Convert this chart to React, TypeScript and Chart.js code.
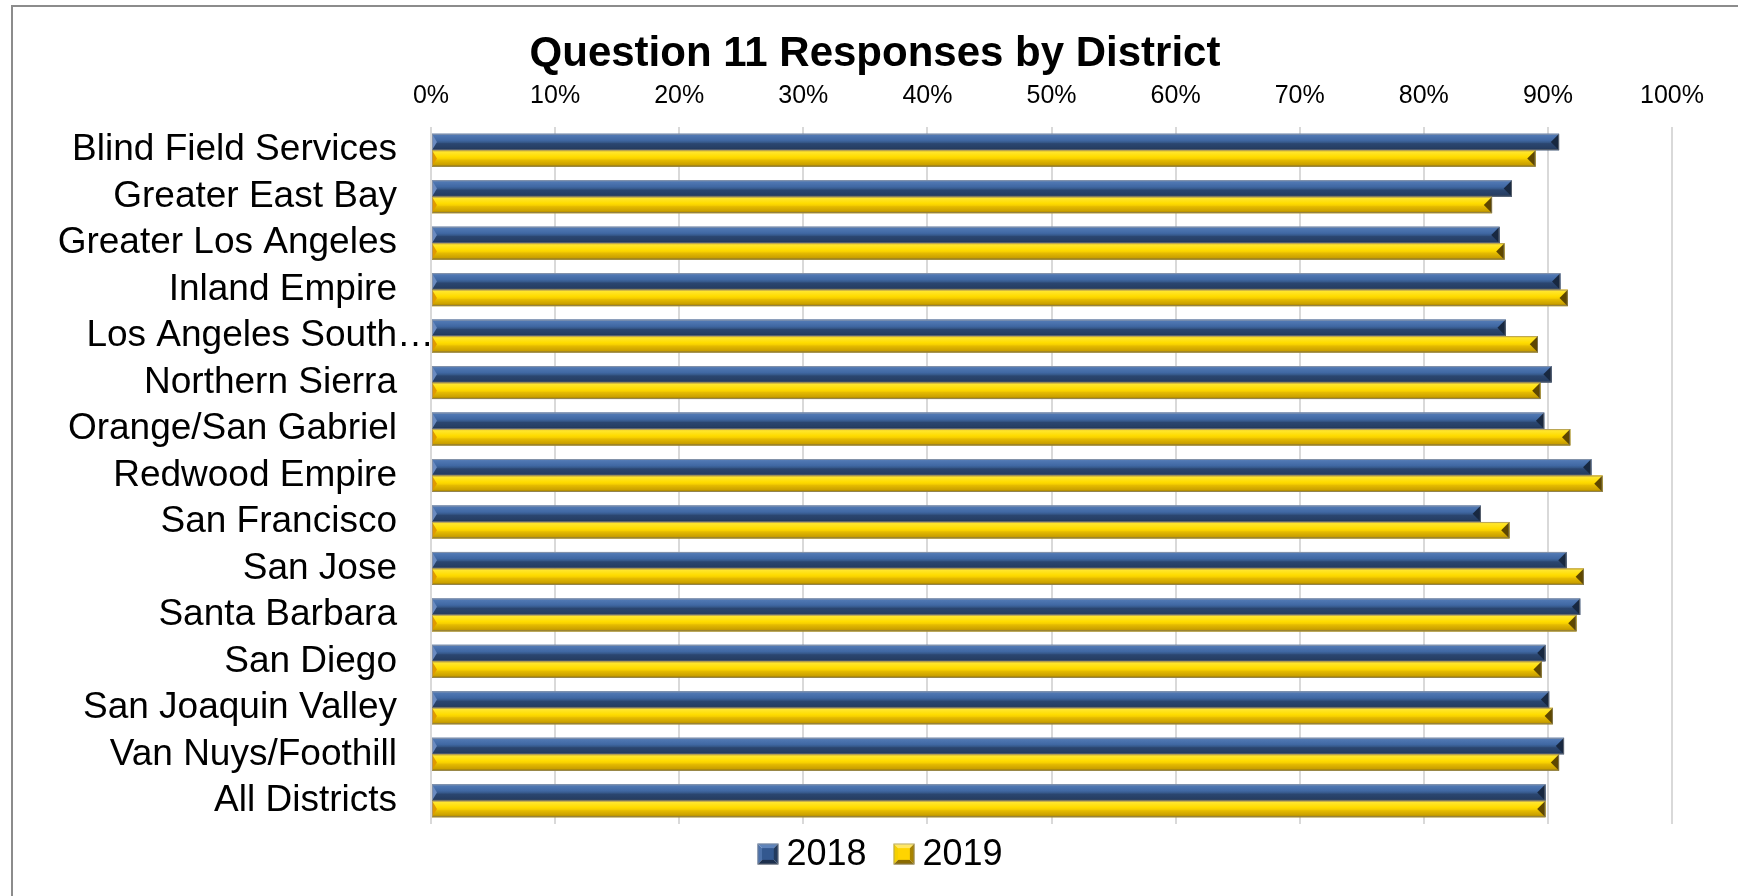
import React, { useEffect, useRef } from 'react';
import { Chart, registerables } from 'chart.js';

Chart.register(...registerables);

const chartTitle = 'Question 11 Responses by District';

const categories = [
  'Blind Field Services',
  'Greater East Bay',
  'Greater Los Angeles',
  'Inland Empire',
  'Los Angeles South…',
  'Northern Sierra',
  'Orange/San Gabriel',
  'Redwood Empire',
  'San Francisco',
  'San Jose',
  'Santa Barbara',
  'San Diego',
  'San Joaquin Valley',
  'Van Nuys/Foothill',
  'All Districts',
];

const seriesNames = ['2018', '2019'];

const values2018 = [90.9, 87.1, 86.1, 91.0, 86.6, 90.3, 89.7, 93.5, 84.6, 91.5, 92.6, 89.8, 90.1, 91.3, 89.8];
const values2019 = [89.0, 85.5, 86.5, 91.6, 89.2, 89.4, 91.8, 94.4, 86.9, 92.9, 92.3, 89.5, 90.4, 90.9, 89.8];

const axisMin = 0;
const axisMax = 100;
const axisStep = 10;

const FONT = "'Liberation Sans', Arial, Helvetica, sans-serif";

type Palette = {
  base: string;
  stops: [number, string][];
  end: string;
  endHi: string;
  start: string;
  boxTop: string;
  boxLeft: string;
  boxRight: string;
  boxBottom: string;
  boxCenter: string;
};

const palettes: Palette[] = [
  {
    base: '#345b94',
    stops: [
      [0, '#7a97c6'],
      [0.1, '#5078b3'],
      [0.4, '#4068a3'],
      [0.52, '#36598b'],
      [0.6, '#2b4670'],
      [0.88, '#263e63'],
      [1, '#1b2c47'],
    ],
    end: '#182840',
    endHi: '#30507f',
    start: '#6b8bc0',
    boxTop: '#5f84bb',
    boxLeft: '#4d72aa',
    boxRight: '#223a5e',
    boxBottom: '#1c2f4d',
    boxCenter: '#33588f',
  },
  {
    base: '#f2c800',
    stops: [
      [0, '#e0ad00'],
      [0.1, '#ffe62e'],
      [0.4, '#ffdc00'],
      [0.52, '#f6cf00'],
      [0.6, '#e5bb00'],
      [0.88, '#c99f00'],
      [1, '#7a5e00'],
    ],
    end: '#5e4700',
    endHi: '#b38a00',
    start: '#e09a00',
    boxTop: '#ffe766',
    boxLeft: '#f5d000',
    boxRight: '#a88300',
    boxBottom: '#8a6a00',
    boxCenter: '#ffd400',
  },
];

const CHART_LEFT = 431;
const CHART_RIGHT = 1672;
const CHART_TOP = 127;
const CHART_BOTTOM = 824;
const CANVAS_W = 1738;
const CANVAS_H = 896;
const FRAME_X = 12;
const FRAME_Y = 6;

const TITLE_SIZE = 42;
const TITLE_PAD_TOP = 29;
const TITLE_PAD_BOTTOM = 4;
const TICK_SIZE = 25;
const LABEL_SIZE = 37;
const LEGEND_SIZE = 36;

function drawBevelBar(ctx: CanvasRenderingContext2D, L: number, R: number, T: number, B: number, pal: Palette) {
  const h = B - T;
  const w = R - L;
  if (w <= 0 || h <= 0) return;
  const g = ctx.createLinearGradient(0, T, 0, B);
  pal.stops.forEach(([o, c]) => g.addColorStop(o, c));
  ctx.save();
  ctx.fillStyle = g;
  ctx.fillRect(L, T, w, h);
  const b = Math.min(h * 0.5, w / 2);
  const mid = T + h / 2;
  ctx.beginPath();
  ctx.moveTo(R, T);
  ctx.lineTo(R, B);
  ctx.lineTo(R - b, mid);
  ctx.closePath();
  ctx.fillStyle = pal.end;
  ctx.fill();
  ctx.beginPath();
  ctx.moveTo(R, T);
  ctx.lineTo(R - b, mid);
  ctx.lineTo(R - b * 0.2, T + h * 0.1);
  ctx.closePath();
  ctx.fillStyle = pal.endHi;
  ctx.fill();
  const bl = Math.min(h * 0.3, w / 2);
  ctx.beginPath();
  ctx.moveTo(L, T);
  ctx.lineTo(L, B);
  ctx.lineTo(L + bl, mid);
  ctx.closePath();
  ctx.fillStyle = pal.start;
  ctx.fill();
  ctx.strokeStyle = 'rgba(150,150,150,0.55)';
  ctx.lineWidth = 1;
  ctx.strokeRect(L + 0.5, T + 0.5, w - 1, h - 1);
  ctx.restore();
}

function drawLegendBox(ctx: CanvasRenderingContext2D, x: number, y: number, s: number, pal: Palette) {
  const cx = x + s / 2;
  const cy = y + s / 2;
  const tri = (pts: number[][], color: string) => {
    ctx.beginPath();
    ctx.moveTo(pts[0][0], pts[0][1]);
    for (let i = 1; i < pts.length; i++) ctx.lineTo(pts[i][0], pts[i][1]);
    ctx.closePath();
    ctx.fillStyle = color;
    ctx.fill();
  };
  tri([[x, y], [x + s, y], [cx, cy]], pal.boxTop);
  tri([[x, y], [x, y + s], [cx, cy]], pal.boxLeft);
  tri([[x + s, y], [x + s, y + s], [cx, cy]], pal.boxRight);
  tri([[x, y + s], [x + s, y + s], [cx, cy]], pal.boxBottom);
  const inset = s * 0.22;
  ctx.fillStyle = pal.boxCenter;
  ctx.fillRect(x + inset, y + inset, s - 2 * inset, s - 2 * inset);
  ctx.strokeStyle = 'rgba(140,140,140,0.6)';
  ctx.lineWidth = 1;
  ctx.strokeRect(x + 0.5, y + 0.5, s - 1, s - 1);
}

export default function App() {
  const canvasRef = useRef<HTMLCanvasElement>(null);

  useEffect(() => {
    const canvas = canvasRef.current;
    if (!canvas) return;

    const customPlugin = {
      id: 'customLook',
      beforeDraw(chart: any) {
        const ctx: CanvasRenderingContext2D = chart.ctx;
        ctx.save();
        ctx.fillStyle = '#ffffff';
        ctx.fillRect(0, 0, chart.width, chart.height);
        ctx.strokeStyle = '#8c8c8c';
        ctx.lineWidth = 2;
        ctx.beginPath();
        ctx.moveTo(FRAME_X, CANVAS_H);
        ctx.lineTo(FRAME_X, FRAME_Y);
        ctx.lineTo(CANVAS_W, FRAME_Y);
        ctx.stroke();
        ctx.restore();
      },
      afterDatasetsDraw(chart: any) {
        const ctx: CanvasRenderingContext2D = chart.ctx;
        chart.data.datasets.forEach((_ds: any, di: number) => {
          const meta = chart.getDatasetMeta(di);
          meta.data.forEach((el: any) => {
            const p = el.getProps(['x', 'y', 'base', 'height'], true);
            const L = Math.min(p.base, p.x);
            const R = Math.max(p.base, p.x);
            const T = p.y - p.height / 2;
            const B = p.y + p.height / 2;
            drawBevelBar(ctx, L, R, T, B, palettes[di]);
          });
        });
      },
      afterDraw(chart: any) {
        const ctx: CanvasRenderingContext2D = chart.ctx;
        const yScale = chart.scales.y;
        const pad = yScale.options.ticks.padding;
        ctx.save();
        ctx.font = `${LABEL_SIZE}px ${FONT}`;
        ctx.fillStyle = '#000';
        ctx.textBaseline = 'middle';
        ctx.textAlign = 'left';
        categories.forEach((c, i) => {
          if (c.endsWith('…')) {
            ctx.fillText('…', yScale.right - pad, yScale.getPixelForTick(i));
          }
        });
        ctx.restore();

        ctx.save();
        ctx.font = `${LEGEND_SIZE}px ${FONT}`;
        ctx.textBaseline = 'middle';
        ctx.textAlign = 'left';
        const box = 21;
        const gap = 8;
        const spacing = 27;
        const widths = seriesNames.map((n) => box + gap + ctx.measureText(n).width);
        const total = widths.reduce((a, b) => a + b, 0) + spacing * (seriesNames.length - 1);
        const centerX = (FRAME_X + CANVAS_W) / 2 + 5;
        const cy = 854;
        let x = centerX - total / 2;
        seriesNames.forEach((n, i) => {
          drawLegendBox(ctx, x, cy - box / 2, box, palettes[i]);
          ctx.fillStyle = '#000';
          ctx.fillText(n, x + box + gap, cy + 1);
          x += widths[i] + spacing;
        });
        ctx.restore();
      },
    };

    const chart = new Chart(canvas, {
      type: 'bar',
      data: {
        labels: categories,
        datasets: [
          {
            label: seriesNames[0],
            data: values2018,
            backgroundColor: palettes[0].base,
            borderWidth: 0,
            categoryPercentage: 0.71,
            barPercentage: 1.0,
          },
          {
            label: seriesNames[1],
            data: values2019,
            backgroundColor: palettes[1].base,
            borderWidth: 0,
            categoryPercentage: 0.71,
            barPercentage: 1.0,
          },
        ],
      },
      options: {
        indexAxis: 'y',
        responsive: false,
        maintainAspectRatio: false,
        animation: false,
        events: [],
        devicePixelRatio: 1,
        layout: {
          padding: { left: FRAME_X, right: 0, top: 0, bottom: CANVAS_H - CHART_BOTTOM },
        },
        plugins: {
          legend: { display: false },
          tooltip: { enabled: false },
          title: {
            display: true,
            text: chartTitle,
            color: '#000',
            font: { family: FONT, size: TITLE_SIZE, weight: 'bold', lineHeight: 1.2 },
            padding: { top: TITLE_PAD_TOP, bottom: TITLE_PAD_BOTTOM },
          },
        },
        scales: {
          x: {
            type: 'linear',
            position: 'top',
            min: axisMin,
            max: axisMax,
            ticks: {
              stepSize: axisStep,
              color: '#000',
              font: { family: FONT, size: TICK_SIZE },
              padding: 16,
              callback: (v: any) => `${v}%`,
            },
            grid: {
              color: '#d9d9d9',
              lineWidth: 2,
              drawTicks: false,
            },
            border: { display: false },
            afterFit: (scale: any) => {
              scale.height = CHART_TOP - (TITLE_PAD_TOP + TITLE_SIZE * 1.2 + TITLE_PAD_BOTTOM);
              scale.paddingRight = CANVAS_W - CHART_RIGHT;
            },
          },
          y: {
            type: 'category',
            ticks: {
              color: '#000',
              font: { family: FONT, size: LABEL_SIZE },
              padding: CHART_LEFT - 397,
              autoSkip: false,
              callback: function (this: any, _v: any, i: number) {
                const c = categories[i];
                return c.endsWith('…') ? c.slice(0, -1) : c;
              },
            },
            grid: { display: false, drawTicks: false },
            border: { display: false },
            afterFit: (scale: any) => {
              scale.width = CHART_LEFT - FRAME_X;
            },
          },
        },
      },
      plugins: [customPlugin],
    });

    return () => chart.destroy();
  }, []);

  return (
    <div style={{ position: 'fixed', left: 0, top: 0, width: CANVAS_W, height: CANVAS_H, background: '#fff' }}>
      <canvas
        ref={canvasRef}
        width={CANVAS_W}
        height={CANVAS_H}
        style={{ display: 'block', width: CANVAS_W, height: CANVAS_H }}
      />
    </div>
  );
}
